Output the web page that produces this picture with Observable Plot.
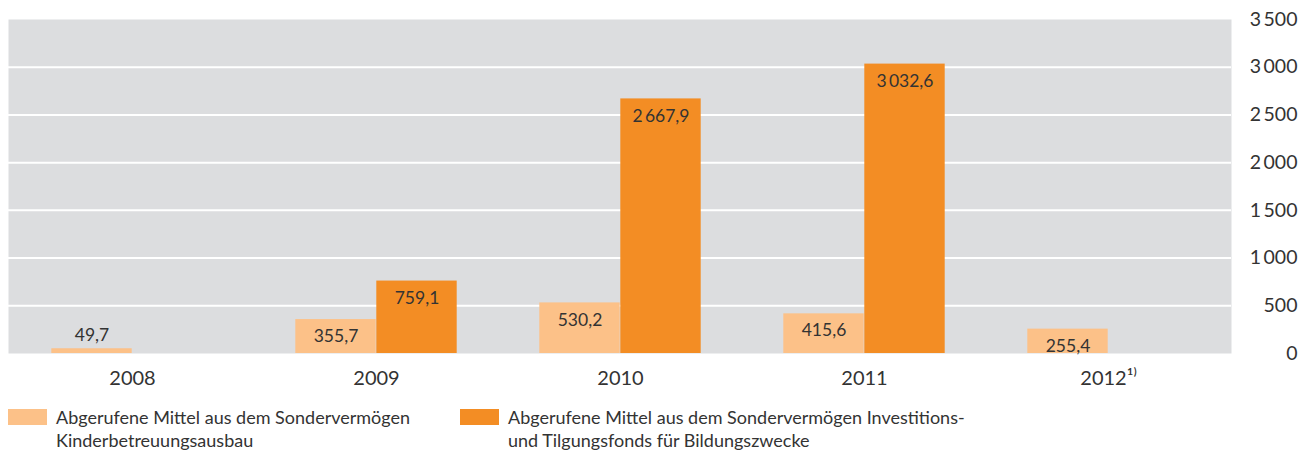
<!DOCTYPE html>
<html><head><meta charset="utf-8">
<script src="https://cdn.jsdelivr.net/npm/d3@7"></script>
<script src="https://cdn.jsdelivr.net/npm/@observablehq/plot@0.6"></script>
<style>
body{margin:0;background:#fff;font-family:Lato,"Open Sans",sans-serif;color:#333;}
#chart svg{display:block}
.legend{position:relative;height:52px;font-size:18px;line-height:23px;color:#333}
.item{position:absolute;top:8px;display:flex}
.sw{width:39px;height:16px;margin-top:3px;margin-right:9px;flex:none}
</style></head>
<body>
<div id="chart"></div>
<div class="legend" id="legend"></div>
<script>
const years = ["2008","2009","2010","2011","2012"];
const yearLabels = ["2008","2009","2010","2011","2012\u00B9\u207E"];
const kita = [49.7, 355.7, 530.2, 415.6, 255.4];
const itf = [null, 759.1, 2667.9, 3032.6, null];
const seriesNames = ["Abgerufene Mittel aus dem Sondervermögen<br>Kinderbetreuungsausbau",
                     "Abgerufene Mittel aus dem Sondervermögen Investitions-<br>und Tilgungsfonds für Bildungszwecke"];
const colors = ["#fcc188", "#f38d24"];
const yTicks = [0,500,1000,1500,2000,2500,3000,3500];

const loc = d3.formatLocale({decimal:",", thousands:"\u2009", grouping:[3], currency:["",""]});
const fInt = loc.format(",d");
const fDec = loc.format(",.1f");

const dataK = years.map((y,i)=>({year:y, v:kita[i]}));
const dataI = years.map((y,i)=>({year:y, v:itf[i]})).filter(d=>d.v!=null);

const W = 1316, H = 398, mL = 8, mR = 85, mT = 19, mB = 45;
const band = (W - mL - mR) / years.length;
const barW = 81;
const inner = band/2 - barW;

const chart = Plot.plot({
  width: W, height: H,
  marginLeft: mL, marginRight: mR, marginTop: mT, marginBottom: mB,
  style:{fontFamily:"Lato, 'Open Sans', sans-serif", color:"#333", background:"#fff"},
  x:{domain:years, padding:0, label:null},
  y:{domain:[0,3500], label:null},
  marks:[
    Plot.frame({fill:"#dcdddf", stroke:null}),
    Plot.ruleY(yTicks.filter(t=>t>0 && t<3500), {stroke:"#fff", strokeWidth:2}),
    Plot.barY(dataK, {x:"year", y:"v", fill:colors[0], insetLeft:inner, insetRight:band/2}),
    Plot.barY(dataI, {x:"year", y:"v", fill:colors[1], insetLeft:band/2, insetRight:inner}),
    Plot.text(dataK.filter(d=>d.v>200), {x:"year", y:"v", text:d=>fDec(d.v), dx:-barW/2, dy:17, fontSize:17.5, fill:"#333"}),
    Plot.text(dataK.filter(d=>d.v<=200), {x:"year", y:"v", text:d=>fDec(d.v), dx:-barW/2, dy:-13, fontSize:17.5, fill:"#333"}),
    Plot.text(dataI, {x:"year", y:"v", text:d=>fDec(d.v), dx:barW/2, dy:17, fontSize:17.5, fill:"#333"}),
    Plot.axisX({ticks:years, tickSize:0, tickPadding:17, fontSize:20, tickFormat:(d)=>yearLabels[years.indexOf(d)], label:null}),
    Plot.axisY({anchor:"right", ticks:yTicks, tickSize:0, tickPadding:66, textAnchor:"end", fontSize:19.5, tickFormat:fInt, label:null})
  ]
});
document.getElementById("chart").appendChild(chart);

const lg = document.getElementById("legend");
const lefts = [8, 460];
seriesNames.forEach((n,i)=>{
  const it = document.createElement("div");
  it.className="item"; it.style.left = lefts[i]+"px";
  it.innerHTML = `<div class="sw" style="background:${colors[i]}"></div><div>${n}</div>`;
  lg.appendChild(it);
});
</script>
</body></html>
